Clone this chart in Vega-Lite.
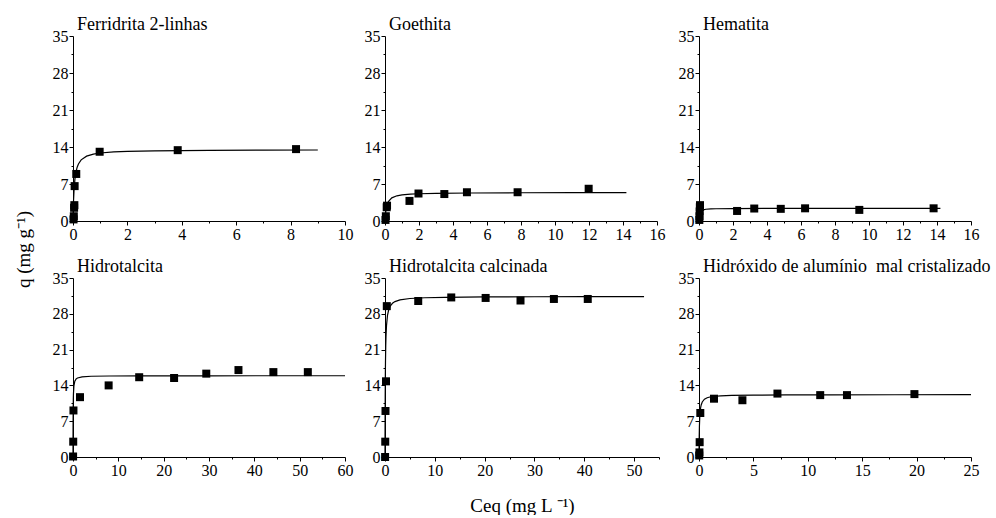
{
  "$schema": "https://vega.github.io/schema/vega-lite/v6.json",
  "padding": {"left": 15, "top": 16, "right": 0, "bottom": 0},
  "background": "white",
  "title": {
    "text": "q (mg g⁻¹)",
    "orient": "left",
    "anchor": "middle",
    "frame": "bounds",
    "font": "Liberation Serif",
    "fontSize": 19,
    "fontWeight": "normal",
    "color": "black",
    "offset": 18,
    "dx": 16
  },
  "config": {
    "view": {"stroke": null},
    "font": "Liberation Serif",
    "title": {"font": "Liberation Serif", "fontSize": 18, "fontWeight": "normal", "color": "black", "anchor": "start", "frame": "group", "offset": -6, "dx": 4},
    "axis": {
      "grid": false,
      "domainColor": "black",
      "domainWidth": 1,
      "tickColor": "black",
      "tickWidth": 1,
      "tickSize": 4,
      "labelColor": "black",
      "labelFont": "Liberation Serif",
      "labelFontSize": 16,
      "labelPadding": 1,
      "labelOverlap": false,
      "labelFlush": false,
      "titleFont": "Liberation Serif",
      "titleFontSize": 19,
      "titleFontWeight": "normal",
      "titleColor": "black"
    }
  },
  "datasets": {
    "ferr_pts": [
      {"ceq": 0.02, "q": 0.3}, {"ceq": 0.03, "q": 0.9}, {"ceq": 0.04, "q": 2.5}, {"ceq": 0.05, "q": 3.0},
      {"ceq": 0.06, "q": 6.6}, {"ceq": 0.12, "q": 8.9}, {"ceq": 0.98, "q": 13.1}, {"ceq": 3.85, "q": 13.4}, {"ceq": 8.2, "q": 13.6}
    ],
    "ferr_fit": [
      {"ceq": 0, "q": 0}, {"ceq": 0.01, "q": 2.25}, {"ceq": 0.02, "q": 3.86}, {"ceq": 0.04, "q": 6.0}, {"ceq": 0.07, "q": 7.88},
      {"ceq": 0.1, "q": 9.0}, {"ceq": 0.15, "q": 10.13}, {"ceq": 0.2, "q": 10.8}, {"ceq": 0.3, "q": 11.57}, {"ceq": 0.5, "q": 12.27},
      {"ceq": 0.75, "q": 12.66}, {"ceq": 1, "q": 12.86}, {"ceq": 1.5, "q": 13.06}, {"ceq": 2, "q": 13.17}, {"ceq": 3, "q": 13.28},
      {"ceq": 5, "q": 13.37}, {"ceq": 7, "q": 13.4}, {"ceq": 9, "q": 13.43}
    ],
    "goe_pts": [
      {"ceq": 0.03, "q": 0.2}, {"ceq": 0.05, "q": 0.9}, {"ceq": 0.1, "q": 2.6}, {"ceq": 0.12, "q": 2.9}, {"ceq": 1.44, "q": 3.8},
      {"ceq": 1.97, "q": 5.2}, {"ceq": 3.49, "q": 5.1}, {"ceq": 4.82, "q": 5.44}, {"ceq": 7.8, "q": 5.44}, {"ceq": 11.98, "q": 6.1}
    ],
    "goe_fit": [
      {"ceq": 0, "q": 0}, {"ceq": 0.01, "q": 0.53}, {"ceq": 0.03, "q": 1.32}, {"ceq": 0.06, "q": 2.12}, {"ceq": 0.1, "q": 2.81},
      {"ceq": 0.2, "q": 3.69}, {"ceq": 0.4, "q": 4.38}, {"ceq": 0.7, "q": 4.77}, {"ceq": 1, "q": 4.94}, {"ceq": 1.5, "q": 5.09},
      {"ceq": 2, "q": 5.16}, {"ceq": 3, "q": 5.24}, {"ceq": 5, "q": 5.3}, {"ceq": 8, "q": 5.34}, {"ceq": 11, "q": 5.35}, {"ceq": 14.2, "q": 5.36}
    ],
    "hem_pts": [
      {"ceq": 0.02, "q": 0.2}, {"ceq": 0.03, "q": 0.9}, {"ceq": 0.04, "q": 1.8}, {"ceq": 0.05, "q": 2.6}, {"ceq": 0.06, "q": 3.0},
      {"ceq": 2.24, "q": 1.9}, {"ceq": 3.25, "q": 2.36}, {"ceq": 4.81, "q": 2.3}, {"ceq": 6.24, "q": 2.4}, {"ceq": 9.43, "q": 2.1}, {"ceq": 13.8, "q": 2.4}
    ],
    "hem_fit": [
      {"ceq": 0, "q": 0}, {"ceq": 0.005, "q": 0.31}, {"ceq": 0.01, "q": 0.55}, {"ceq": 0.02, "q": 0.9}, {"ceq": 0.04, "q": 1.31},
      {"ceq": 0.07, "q": 1.63}, {"ceq": 0.1, "q": 1.8}, {"ceq": 0.2, "q": 2.06}, {"ceq": 0.4, "q": 2.22}, {"ceq": 0.7, "q": 2.29},
      {"ceq": 1, "q": 2.32}, {"ceq": 2, "q": 2.36}, {"ceq": 4, "q": 2.38}, {"ceq": 8, "q": 2.39}, {"ceq": 14.2, "q": 2.39}
    ],
    "hid_pts": [
      {"ceq": 0.02, "q": 0.1}, {"ceq": 0.05, "q": 3.0}, {"ceq": 0.1, "q": 9.1}, {"ceq": 1.54, "q": 11.7}, {"ceq": 7.86, "q": 14.0},
      {"ceq": 14.6, "q": 15.6}, {"ceq": 22.3, "q": 15.45}, {"ceq": 29.4, "q": 16.3}, {"ceq": 36.5, "q": 17.0}, {"ceq": 44.2, "q": 16.6}, {"ceq": 51.8, "q": 16.6}
    ],
    "hid_fit": [
      {"ceq": 0, "q": 0}, {"ceq": 0.01, "q": 4.12}, {"ceq": 0.02, "q": 6.55}, {"ceq": 0.04, "q": 9.28}, {"ceq": 0.07, "q": 11.29},
      {"ceq": 0.1, "q": 12.37}, {"ceq": 0.2, "q": 13.91}, {"ceq": 0.4, "q": 14.84}, {"ceq": 0.7, "q": 15.28}, {"ceq": 1, "q": 15.46},
      {"ceq": 2, "q": 15.68}, {"ceq": 4, "q": 15.79}, {"ceq": 8, "q": 15.84}, {"ceq": 15, "q": 15.87}, {"ceq": 30, "q": 15.88},
      {"ceq": 45, "q": 15.89}, {"ceq": 60, "q": 15.89}
    ],
    "cal_pts": [
      {"ceq": 0.02, "q": 0.0}, {"ceq": 0.05, "q": 3.0}, {"ceq": 0.1, "q": 9.0}, {"ceq": 0.2, "q": 14.8}, {"ceq": 0.36, "q": 29.5},
      {"ceq": 6.67, "q": 30.5}, {"ceq": 13.3, "q": 31.2}, {"ceq": 20.2, "q": 31.1}, {"ceq": 27.2, "q": 30.6}, {"ceq": 33.9, "q": 30.9}, {"ceq": 40.7, "q": 30.9}
    ],
    "cal_fit": [
      {"ceq": 0, "q": 0}, {"ceq": 0.01, "q": 4.1}, {"ceq": 0.02, "q": 7.25}, {"ceq": 0.04, "q": 11.78}, {"ceq": 0.07, "q": 16.08},
      {"ceq": 0.1, "q": 18.84}, {"ceq": 0.15, "q": 21.74}, {"ceq": 0.2, "q": 23.55}, {"ceq": 0.3, "q": 25.69}, {"ceq": 0.5, "q": 27.71},
      {"ceq": 0.75, "q": 28.84}, {"ceq": 1, "q": 29.44}, {"ceq": 1.5, "q": 30.06}, {"ceq": 2, "q": 30.39}, {"ceq": 3, "q": 30.72},
      {"ceq": 5, "q": 30.99}, {"ceq": 8, "q": 31.14}, {"ceq": 12, "q": 31.23}, {"ceq": 20, "q": 31.3}, {"ceq": 30, "q": 31.33},
      {"ceq": 40, "q": 31.35}, {"ceq": 52, "q": 31.36}
    ],
    "alu_pts": [
      {"ceq": 0.02, "q": 0.3}, {"ceq": 0.04, "q": 0.9}, {"ceq": 0.06, "q": 2.9}, {"ceq": 0.12, "q": 8.6}, {"ceq": 1.38, "q": 11.4},
      {"ceq": 3.99, "q": 11.1}, {"ceq": 7.21, "q": 12.4}, {"ceq": 11.14, "q": 12.1}, {"ceq": 13.6, "q": 12.1}, {"ceq": 19.8, "q": 12.3}
    ],
    "alu_fit": [
      {"ceq": 0, "q": 0}, {"ceq": 0.01, "q": 2.44}, {"ceq": 0.02, "q": 4.07}, {"ceq": 0.04, "q": 6.1}, {"ceq": 0.07, "q": 7.76},
      {"ceq": 0.1, "q": 8.71}, {"ceq": 0.15, "q": 9.63}, {"ceq": 0.2, "q": 10.17}, {"ceq": 0.3, "q": 10.76}, {"ceq": 0.5, "q": 11.3},
      {"ceq": 0.75, "q": 11.58}, {"ceq": 1, "q": 11.73}, {"ceq": 1.5, "q": 11.88}, {"ceq": 2, "q": 11.96}, {"ceq": 3, "q": 12.04},
      {"ceq": 5, "q": 12.1}, {"ceq": 8, "q": 12.14}, {"ceq": 12, "q": 12.16}, {"ceq": 18, "q": 12.17}, {"ceq": 25, "q": 12.18}
    ]
  },
  "columns": 3,
  "bounds": "flush",
  "spacing": {"column": 40, "row": 57},
  "concat": [
    {
      "title": "Ferridrita 2-linhas",
      "width": 272, "height": 185,
      "resolve": {"axis": {"x": "independent", "y": "independent"}},
      "layer": [
        {
          "data": {"name": "ferr_fit"},
          "mark": {"type": "line", "color": "black", "strokeWidth": 1.2},
          "encoding": {
            "x": {"field": "ceq", "type": "quantitative", "scale": {"domain": [0, 10], "nice": false},
                  "axis": {"orient": "bottom", "values": [1, 3, 5, 7, 9], "labels": false, "domain": false, "tickSize": 2, "title": null}},
            "y": {"field": "q", "type": "quantitative", "scale": {"domain": [0, 35], "nice": false},
                  "axis": {"orient": "left", "values": [3.5, 10.5, 17.5, 24.5, 31.5], "labels": false, "domain": false, "tickSize": 2, "title": null}}
          }
        },
        {
          "data": {"name": "ferr_pts"},
          "mark": {"type": "point", "shape": "square", "filled": true, "color": "black", "opacity": 1, "size": 64},
          "encoding": {
            "x": {"field": "ceq", "type": "quantitative", "axis": {"orient": "bottom", "values": [0, 2, 4, 6, 8, 10], "title": null}},
            "y": {"field": "q", "type": "quantitative", "axis": {"orient": "left", "values": [0, 7, 14, 21, 28, 35], "title": null}}
          }
        }
      ]
    },
    {
      "title": "Goethita",
      "width": 272, "height": 185,
      "resolve": {"axis": {"x": "independent", "y": "independent"}},
      "layer": [
        {
          "data": {"name": "goe_fit"},
          "mark": {"type": "line", "color": "black", "strokeWidth": 1.2},
          "encoding": {
            "x": {"field": "ceq", "type": "quantitative", "scale": {"domain": [0, 16], "nice": false},
                  "axis": {"orient": "bottom", "values": [1, 3, 5, 7, 9, 11, 13, 15], "labels": false, "domain": false, "tickSize": 2, "title": null}},
            "y": {"field": "q", "type": "quantitative", "scale": {"domain": [0, 35], "nice": false},
                  "axis": {"orient": "left", "values": [3.5, 10.5, 17.5, 24.5, 31.5], "labels": false, "domain": false, "tickSize": 2, "title": null}}
          }
        },
        {
          "data": {"name": "goe_pts"},
          "mark": {"type": "point", "shape": "square", "filled": true, "color": "black", "opacity": 1, "size": 64},
          "encoding": {
            "x": {"field": "ceq", "type": "quantitative", "axis": {"orient": "bottom", "values": [0, 2, 4, 6, 8, 10, 12, 14, 16], "title": null}},
            "y": {"field": "q", "type": "quantitative", "axis": {"orient": "left", "values": [0, 7, 14, 21, 28, 35], "title": null}}
          }
        }
      ]
    },
    {
      "title": "Hematita",
      "width": 272, "height": 185,
      "resolve": {"axis": {"x": "independent", "y": "independent"}},
      "layer": [
        {
          "data": {"name": "hem_fit"},
          "mark": {"type": "line", "color": "black", "strokeWidth": 1.2},
          "encoding": {
            "x": {"field": "ceq", "type": "quantitative", "scale": {"domain": [0, 16], "nice": false},
                  "axis": {"orient": "bottom", "values": [1, 3, 5, 7, 9, 11, 13, 15], "labels": false, "domain": false, "tickSize": 2, "title": null}},
            "y": {"field": "q", "type": "quantitative", "scale": {"domain": [0, 35], "nice": false},
                  "axis": {"orient": "left", "values": [3.5, 10.5, 17.5, 24.5, 31.5], "labels": false, "domain": false, "tickSize": 2, "title": null}}
          }
        },
        {
          "data": {"name": "hem_pts"},
          "mark": {"type": "point", "shape": "square", "filled": true, "color": "black", "opacity": 1, "size": 64},
          "encoding": {
            "x": {"field": "ceq", "type": "quantitative", "axis": {"orient": "bottom", "values": [0, 2, 4, 6, 8, 10, 12, 14, 16], "title": null}},
            "y": {"field": "q", "type": "quantitative", "axis": {"orient": "left", "values": [0, 7, 14, 21, 28, 35], "title": null}}
          }
        }
      ]
    },
    {
      "title": "Hidrotalcita",
      "width": 272, "height": 179,
      "resolve": {"axis": {"x": "independent", "y": "independent"}},
      "layer": [
        {
          "data": {"name": "hid_fit"},
          "mark": {"type": "line", "color": "black", "strokeWidth": 1.2},
          "encoding": {
            "x": {"field": "ceq", "type": "quantitative", "scale": {"domain": [0, 60], "nice": false},
                  "axis": {"orient": "bottom", "values": [5, 15, 25, 35, 45, 55], "labels": false, "domain": false, "tickSize": 2, "title": null}},
            "y": {"field": "q", "type": "quantitative", "scale": {"domain": [0, 35], "nice": false},
                  "axis": {"orient": "left", "values": [3.5, 10.5, 17.5, 24.5, 31.5], "labels": false, "domain": false, "tickSize": 2, "title": null}}
          }
        },
        {
          "data": {"name": "hid_pts"},
          "mark": {"type": "point", "shape": "square", "filled": true, "color": "black", "opacity": 1, "size": 64},
          "encoding": {
            "x": {"field": "ceq", "type": "quantitative", "axis": {"orient": "bottom", "values": [0, 10, 20, 30, 40, 50, 60], "title": null}},
            "y": {"field": "q", "type": "quantitative", "axis": {"orient": "left", "values": [0, 7, 14, 21, 28, 35], "title": null}}
          }
        }
      ]
    },
    {
      "title": "Hidrotalcita calcinada",
      "width": 274, "height": 179,
      "resolve": {"axis": {"x": "independent", "y": "independent"}},
      "layer": [
        {
          "data": {"name": "cal_fit"},
          "mark": {"type": "line", "color": "black", "strokeWidth": 1.2},
          "encoding": {
            "x": {"field": "ceq", "type": "quantitative", "scale": {"domain": [0, 55], "nice": false},
                  "axis": {"orient": "bottom", "values": [5, 15, 25, 35, 45, 55], "labels": false, "domain": false, "tickSize": 2, "title": null}},
            "y": {"field": "q", "type": "quantitative", "scale": {"domain": [0, 35], "nice": false},
                  "axis": {"orient": "left", "values": [3.5, 10.5, 17.5, 24.5, 31.5], "labels": false, "domain": false, "tickSize": 2, "title": null}}
          }
        },
        {
          "data": {"name": "cal_pts"},
          "mark": {"type": "point", "shape": "square", "filled": true, "color": "black", "opacity": 1, "size": 64},
          "encoding": {
            "x": {"field": "ceq", "type": "quantitative", "axis": {"orient": "bottom", "values": [0, 10, 20, 30, 40, 50], "title": "Ceq (mg L ⁻¹)", "titlePadding": 18}},
            "y": {"field": "q", "type": "quantitative", "axis": {"orient": "left", "values": [0, 7, 14, 21, 28, 35], "title": null}}
          }
        }
      ]
    },
    {
      "title": "Hidróxido de alumínio\u00a0 mal cristalizado",
      "width": 272, "height": 179,
      "resolve": {"axis": {"x": "independent", "y": "independent"}},
      "layer": [
        {
          "data": {"name": "alu_fit"},
          "mark": {"type": "line", "color": "black", "strokeWidth": 1.2},
          "encoding": {
            "x": {"field": "ceq", "type": "quantitative", "scale": {"domain": [0, 25], "nice": false},
                  "axis": {"orient": "bottom", "values": [2.5, 7.5, 12.5, 17.5, 22.5], "labels": false, "domain": false, "tickSize": 2, "title": null}},
            "y": {"field": "q", "type": "quantitative", "scale": {"domain": [0, 35], "nice": false},
                  "axis": {"orient": "left", "values": [3.5, 10.5, 17.5, 24.5, 31.5], "labels": false, "domain": false, "tickSize": 2, "title": null}}
          }
        },
        {
          "data": {"name": "alu_pts"},
          "mark": {"type": "point", "shape": "square", "filled": true, "color": "black", "opacity": 1, "size": 64},
          "encoding": {
            "x": {"field": "ceq", "type": "quantitative", "axis": {"orient": "bottom", "values": [0, 5, 10, 15, 20, 25], "title": null}},
            "y": {"field": "q", "type": "quantitative", "axis": {"orient": "left", "values": [0, 7, 14, 21, 28, 35], "title": null}}
          }
        }
      ]
    }
  ]
}
